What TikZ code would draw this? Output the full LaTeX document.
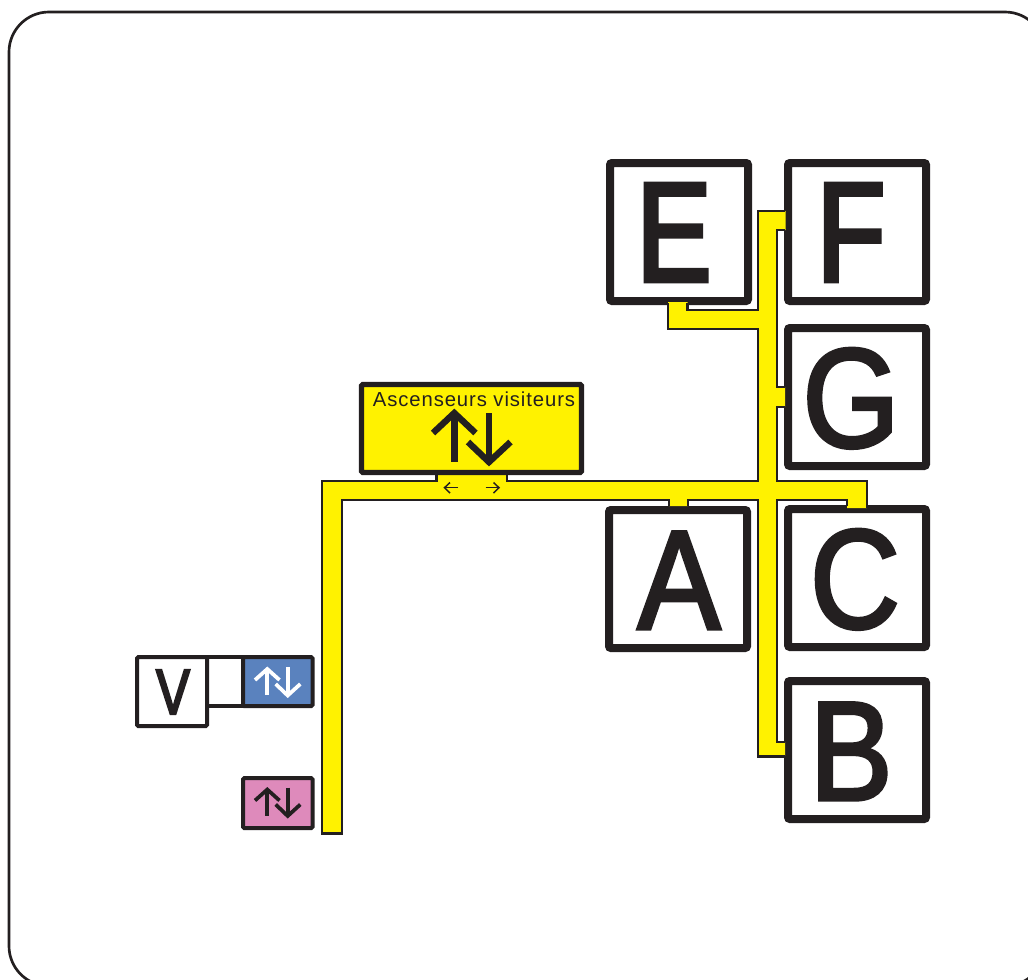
\documentclass[tikz,border=0pt]{standalone}
\usepackage{fontspec}
\setmainfont{Liberation Sans}
\newfontfamily\bigfont[FakeBold=2.4,FakeStretch=0.88]{Liberation Sans}
\newfontfamily\narrowfont[FakeBold=3.2,FakeStretch=0.79]{Liberation Sans}
\newfontfamily\spacedfont[LetterSpace=4.5]{Liberation Sans}
\definecolor{ink}{HTML}{231F20}
\definecolor{ylw}{HTML}{FFF200}
\definecolor{bluebox}{HTML}{5A82BE}
\definecolor{pinkbox}{HTML}{DE8ABB}
\tikzset{
 unit/.style={x=0.75pt,y=-0.75pt},
 bigbox/.style={draw=ink,line width=6pt,fill=white,rounded corners=1.5pt},
 smallbox/.style={draw=ink,line width=3pt,rounded corners=1pt},
 corridor/.style={fill=ylw,draw=none},
 edge/.style={draw=ink,line width=1.9pt,line join=miter},
 bigletter/.style={text=ink,font=\bigfont\fontsize{106}{106}\selectfont,inner sep=0pt,anchor=base},
 narrowletter/.style={text=ink,font=\narrowfont\fontsize{106}{106}\selectfont,inner sep=0pt,anchor=base},
 smallletter/.style={text=ink,font=\narrowfont\fontsize{48}{48}\selectfont,inner sep=0pt,anchor=base},
 arrowline/.style={line cap=butt,line join=miter},
}
\begin{document}
\begin{tikzpicture}[unit]
\useasboundingbox (0,0) rectangle (1028,979);
\draw[draw=ink,line width=2pt,fill=white,rounded corners=30pt] (9,12) rectangle (1045,986);
\clip (0,0) rectangle (1028,979);
% boxes
\draw[bigbox] (610,163) rectangle (748,301);
\draw[bigbox] (788,163) rectangle (926,301);
\draw[bigbox] (788,328) rectangle (926,466);
\draw[bigbox] (609,510) rectangle (747,648);
\draw[bigbox] (788,509) rectangle (926,647);
\draw[bigbox] (788,681) rectangle (926,819);
\node[narrowletter] (letE) at (674,281) {E};
\node[narrowletter] (letF) at (851,281) {F};
\node[bigletter] (letG) at (851,447) {G};
\node[bigletter] (letA) at (679,629) {A};
\node[bigletter] (letC) at (855,628) {C};
\node[bigletter] (letB) at (851,800) {B};
% corridor
\fill[corridor] (668,302) -- (687.5,302) -- (687.5,310) -- (758,310) -- (758,211) -- (785.5,211) -- (785.5,230) -- (777,230) -- (777,387) -- (785,387) -- (785,407) -- (777,407) -- (777,481) -- (867,481) -- (867,508) -- (847,508) -- (847,500) -- (777,500) -- (777,742) -- (785,742) -- (785,756) -- (758,756) -- (758,500) -- (688,500) -- (688,506) -- (669,506) -- (669,500) -- (342,500) -- (342,833) -- (322,833) -- (322,481) -- (436.5,481) -- (436.5,474) -- (507,474) -- (507,481) -- (758,481) -- (758,329) -- (668,329) -- cycle;
\path[edge] (687.5,303) -- (687.5,310) -- (758,310) -- (758,211) -- (785,211);
\path[edge] (785,230) -- (777,230) -- (777,387) -- (784.5,387);
\path[edge] (784.5,407) -- (777,407) -- (777,481) -- (867,481) -- (867,508);
\path[edge] (847,506) -- (847,500) -- (777,500) -- (777,742) -- (784.5,742);
\path[edge] (784.5,756.5) -- (758,756.5) -- (758,500) -- (688,500) -- (688,506);
\path[edge] (669,506) -- (669,500) -- (342,500) -- (342,833.5) -- (322,833.5) -- (322,481) -- (436.5,481) -- (436.5,475);
\path[edge] (507,475) -- (507,481) -- (758,481) -- (758,329) -- (668,329) -- (668,303);
% lift box
\draw[draw=ink,line width=4pt,fill=ylw,rounded corners=1pt] (361.5,384.5) rectangle (581.5,472.5);
\node[text=ink,font=\spacedfont\fontsize{15.2}{15.2}\selectfont,inner sep=0pt,anchor=base] (lift) at (474,406.5) {Ascenseurs visiteurs};
\draw[ink,line width=4.8pt,arrowline] (454.3,461.7) -- (454.3,413);
\draw[ink,line width=4.8pt,arrowline] (433,433) -- (454.3,413) -- (475.5,433);
\draw[ink,line width=4.8pt,arrowline] (489,413) -- (489,462);
\draw[ink,line width=4.8pt,arrowline] (468,442) -- (489,462) -- (510.5,442);
\draw[ink,line width=1.1pt,arrowline] (458,487.7) -- (444.5,487.7);
\draw[ink,line width=1.1pt,arrowline] (450,482.5) -- (444.5,487.7) -- (450,493);
\draw[ink,line width=1.1pt,arrowline] (485.7,487.7) -- (499,487.7);
\draw[ink,line width=1.1pt,arrowline] (493.5,482.5) -- (499,487.7) -- (493.5,493);
% small boxes
\draw[draw=ink,line width=2.4pt,fill=white] (207,657) rectangle (243,706);
\draw[smallbox,fill=white] (137,657) rectangle (207,726);
\node[smallletter] (letV) at (173,714) {V};
\draw[smallbox,fill=bluebox] (243,657) rectangle (312.5,706);
\draw[smallbox,fill=pinkbox] (243,778) rectangle (312.5,828);
\foreach \dy/\col in {0/white,120.5/ink}{
 \begin{scope}[yshift=-\dy*0.75pt]
 \draw[\col,line width=2.8pt,arrowline] (267.3,695) -- (267.3,669);
 \draw[\col,line width=2.8pt,arrowline] (255,680) -- (267.3,669) -- (279.5,680);
 \draw[\col,line width=2.8pt,arrowline] (287.7,667) -- (287.7,695.5);
 \draw[\col,line width=2.8pt,arrowline] (275.7,684) -- (287.7,695.5) -- (300.3,684);
 \end{scope}
}
\end{tikzpicture}
\end{document}
